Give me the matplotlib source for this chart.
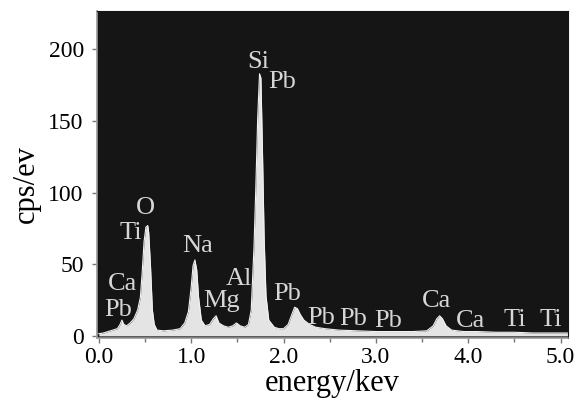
import matplotlib
matplotlib.use("Agg")
import matplotlib.pyplot as plt

# Spectrum samples (energy in keV, counts in cps/eV)
energy = [0.00, 0.05, 0.10, 0.15, 0.20, 0.23, 0.25, 0.27, 0.30, 0.34, 0.38, 0.42,
          0.45, 0.47, 0.49, 0.51, 0.53, 0.54, 0.56, 0.58, 0.60, 0.63, 0.70, 0.80,
          0.88, 0.93, 0.97, 1.00, 1.02, 1.04, 1.06, 1.08, 1.11, 1.15, 1.20, 1.24,
          1.27, 1.30, 1.35, 1.40, 1.45, 1.49, 1.53, 1.58, 1.62, 1.65, 1.68, 1.70,
          1.72, 1.74, 1.755, 1.77, 1.79, 1.81, 1.84, 1.90, 1.95, 2.00, 2.05, 2.09,
          2.12, 2.15, 2.18, 2.22, 2.28, 2.35, 2.45, 2.60, 2.80, 3.00, 3.20, 3.40,
          3.55, 3.62, 3.66, 3.69, 3.72, 3.76, 3.82, 3.95, 4.10, 4.30, 4.50, 4.70,
          4.90, 5.08]
counts = [1.5, 2, 3, 4, 5, 8, 11, 8, 7, 9, 12, 18,
          27, 45, 66, 76, 77, 72, 48, 18, 8, 4, 3.5, 4,
          5, 9, 17, 34, 49, 53, 46, 27, 11, 7, 8, 12,
          14, 9, 7, 6, 7, 9, 7, 6, 8, 18, 62, 104,
          152, 183, 180, 135, 68, 28, 11, 6, 5, 5, 8, 15,
          20, 19, 15, 11, 8, 6, 5, 4, 3.5, 3, 3, 3,
          3.5, 7, 12, 14, 12, 7, 4, 3, 3, 2.5, 2.5, 2,
          2, 2]

# Peak labels
peak_names = ["Si", "Pb", "O", "Ti", "Na", "Ca", "Pb", "Mg", "Al", "Pb",
              "Pb", "Pb", "Pb", "Ca", "Ca", "Ti", "Ti"]
peak_x = [1.73, 1.99, 0.51, 0.35, 1.07, 0.26, 0.21, 1.33, 1.52, 2.04,
          2.41, 2.75, 3.13, 3.66, 4.02, 4.50, 4.90]
peak_y = [191, 177, 89, 72, 63, 36, 18, 24, 40, 29,
          12.5, 12, 10.5, 24, 10.5, 11, 11]

x_ticks = [0.0, 1.0, 2.0, 3.0, 4.0, 5.0]
x_ticklabels = ["0.0", "1.0", "2.0", "3.0", "4.0", "5.0"]
y_ticks = [0, 50, 100, 150, 200]

plt.rcParams["font.family"] = ["Liberation Serif", "DejaVu Serif"]

fig = plt.figure(figsize=(5.79, 4.03), dpi=100)
ax = fig.add_axes([0.1675, 0.1613, 0.8135, 0.812])
ax.set_facecolor("#151515")

ax.fill_between(energy, 0, counts, color="#e4e4e4", lw=0)
ax.plot(energy, counts, color="#f2f2f2", lw=0.8)

for name, px, py in zip(peak_names, peak_x, peak_y):
    ax.text(px, py, name, color="#d6d6d6", fontsize=19, ha="center", va="center")

ax.set_xlim(-0.02, 5.08)
ax.set_ylim(-1.5, 227)
ax.set_xticks(x_ticks)
ax.set_xticklabels(x_ticklabels)
ax.set_xticks([0.5, 1.5, 2.5, 3.5, 4.5], minor=True)
ax.set_yticks(y_ticks)

ax.tick_params(axis="both", which="major", labelsize=17, colors="#777777",
               labelcolor="black", length=3.5, width=1)
ax.tick_params(axis="x", which="minor", colors="#777777", length=3, width=1)
ax.tick_params(axis="x", pad=3)
ax.tick_params(axis="y", pad=6)

for side in ["top", "right"]:
    ax.spines[side].set_color("#151515")
for side in ["left", "bottom"]:
    ax.spines[side].set_color("#999999")
    ax.spines[side].set_linewidth(1.2)

ax.set_xlabel("energy/kev", fontsize=22, labelpad=1)
ax.set_ylabel("cps/ev", fontsize=22)
ax.yaxis.set_label_coords(-0.12, 0.47)

fig.savefig("out.png", dpi=100)
